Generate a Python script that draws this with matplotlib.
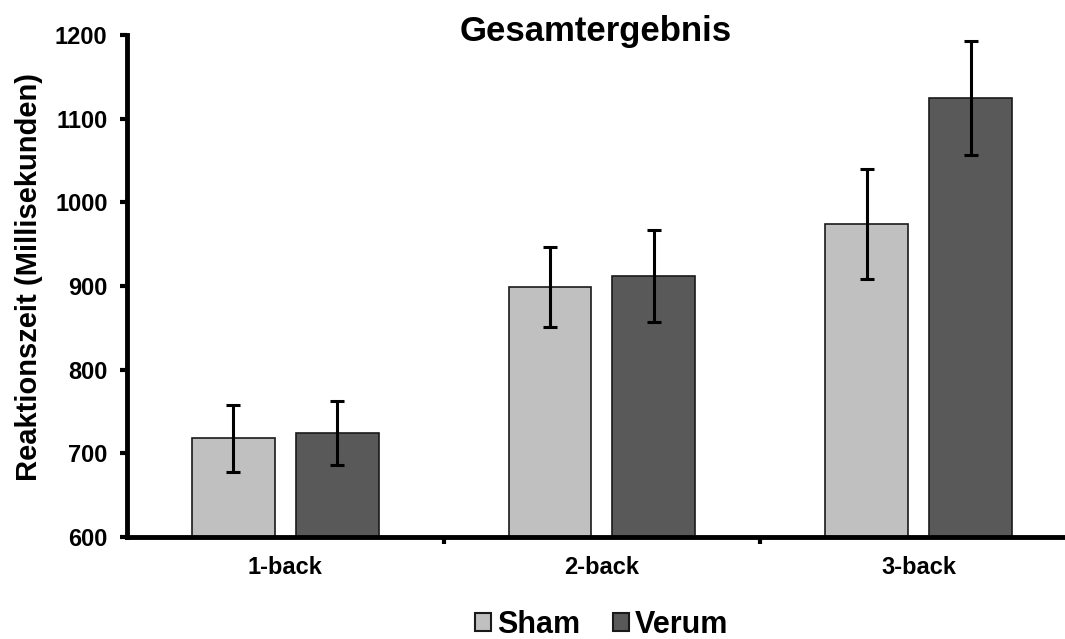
import matplotlib
matplotlib.use('Agg')
import matplotlib.pyplot as plt
import numpy as np
from matplotlib.patches import Patch

plt.rcParams['font.family'] = ['Liberation Sans', 'DejaVu Sans']
plt.rcParams['font.weight'] = 'bold'

# Daten (Reaktionszeit in ms)
kategorien = ['1-back', '2-back', '3-back']
sham = [718, 899, 974]
sham_err = [40, 48, 66]
verum = [724, 912, 1125]
verum_err = [38, 55, 68]

farbe_sham = '#C0C0C0'
farbe_verum = '#595959'

fig = plt.figure(figsize=(10.65, 6.39), dpi=100)
ax = fig.add_axes([0.1192, 0.1596, 0.892, 0.7856])

x = np.arange(len(kategorien))
breite = 0.262
offset = 0.164

err_kw = dict(ecolor='black', elinewidth=2.2, capsize=5, capthick=2.2)
ax.bar(x - offset, sham, breite, color=farbe_sham, edgecolor='#1a1a1a', linewidth=1.2,
       yerr=sham_err, error_kw=err_kw, zorder=2)
ax.bar(x + offset, verum, breite, color=farbe_verum, edgecolor='#1a1a1a', linewidth=1.2,
       yerr=verum_err, error_kw=err_kw, zorder=2)

ax.set_xlim(-0.5, 2.5)
ax.set_ylim(600, 1200)
ax.set_yticks(np.arange(600, 1201, 100))

# Kategorie-Grenzen als Ticks, Beschriftung mittig
ax.set_xticks([0.5, 1.5])
ax.set_xticklabels([])
ax.set_xticks(x, minor=True)
ax.set_xticklabels(kategorien, minor=True, fontsize=17, fontweight='bold')
ax.tick_params(axis='x', which='minor', length=0, pad=14)
ax.tick_params(axis='x', which='major', length=5, width=3, direction='out')
ax.tick_params(axis='y', length=5, width=3, labelsize=17, pad=9)
for lbl in ax.get_yticklabels():
    lbl.set_fontweight('bold')

for s in ['top', 'right']:
    ax.spines[s].set_visible(False)
for s in ['left', 'bottom']:
    ax.spines[s].set_linewidth(3.5)

fig.text(29 / 1065, 1 - 277 / 639, 'Reaktionszeit (Millisekunden)', rotation=90,
         ha='center', va='center', fontsize=21, fontweight='bold')

fig.text(0.559, 1 - 31 / 639, 'Gesamtergebnis', ha='center', va='center',
         fontsize=25, fontweight='bold')

handles = [Patch(facecolor=farbe_sham, edgecolor='#1a1a1a', linewidth=1.5, label='Sham'),
           Patch(facecolor=farbe_verum, edgecolor='#1a1a1a', linewidth=1.5, label='Verum')]
fig.legend(handles=handles, loc='center', bbox_to_anchor=(0.565, 0.022), ncol=2,
           frameon=False, prop={'size': 22, 'weight': 'bold'},
           handlelength=0.5, handleheight=0.5, handletextpad=0.2, columnspacing=1.1)

fig.savefig('out.png', dpi=100)
